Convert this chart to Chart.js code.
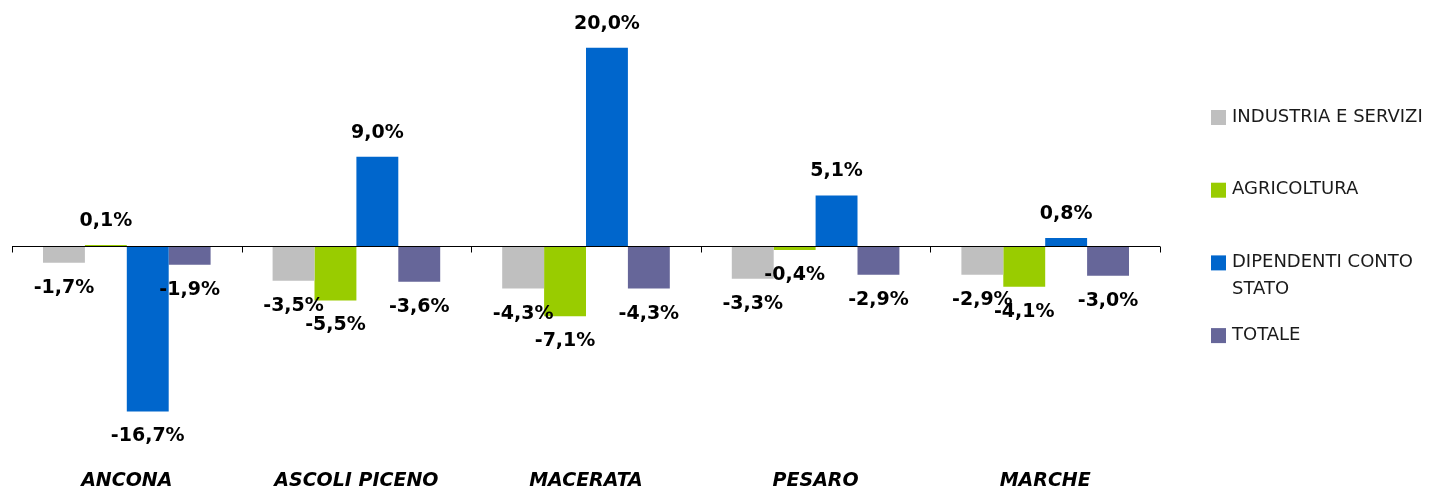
<!DOCTYPE html>
<html>
<head>
<meta charset="utf-8">
<script src="https://cdn.jsdelivr.net/npm/chart.js@4"></script>
<style>
html, body { margin: 0; padding: 0; background: #fff; }
#wrap { width: 1436px; height: 491px; }
</style>
</head>
<body>
<div id="wrap"><canvas id="chart"></canvas></div>
<script>
var categories = ['ANCONA', 'ASCOLI PICENO', 'MACERATA', 'PESARO', 'MARCHE'];
var seriesNames = ['INDUSTRIA E SERVIZI', 'AGRICOLTURA', 'DIPENDENTI CONTO STATO', 'TOTALE'];
var industria = [-1.7, -3.5, -4.3, -3.3, -2.9];
var agricoltura = [0.1, -5.5, -7.1, -0.4, -4.1];
var dipendenti = [-16.7, 9.0, 20.0, 5.1, 0.8];
var totale = [-1.9, -3.6, -4.3, -2.9, -3.0];
var colors = ['#bfbfbf', '#99cc00', '#0066cc', '#666699'];

function fmt(v) {
  return v.toFixed(1).replace('.', ',') + '%';
}

// axis line on zero with tick marks between the categories
var zeroAxis = {
  id: 'zeroAxis',
  afterDatasetsDraw: function(chart) {
    var ctx = chart.ctx;
    var xs = chart.scales.x, ys = chart.scales.y;
    var area = chart.chartArea;
    var y0 = Math.round(ys.getPixelForValue(0)) + 0.5;
    var step = xs.getPixelForValue(1) - xs.getPixelForValue(0);
    ctx.save();
    ctx.strokeStyle = '#000';
    ctx.lineWidth = 1;
    ctx.beginPath();
    ctx.moveTo(area.left, y0);
    ctx.lineTo(area.right, y0);
    for (var i = 0; i <= categories.length; i++) {
      var px = Math.round(xs.getPixelForValue(i) - step / 2) + 0.5;
      ctx.moveTo(px, y0);
      ctx.lineTo(px, y0 + 6);
    }
    ctx.stroke();
    ctx.restore();
  }
};

// value labels above / below each bar
var valueLabels = {
  id: 'valueLabels',
  afterDatasetsDraw: function(chart) {
    var ctx = chart.ctx;
    ctx.save();
    ctx.font = 'bold 19px "DejaVu Sans"';
    ctx.fillStyle = '#000';
    ctx.textAlign = 'center';
    ctx.textBaseline = 'middle';
    chart.data.datasets.forEach(function(ds, i) {
      chart.getDatasetMeta(i).data.forEach(function(bar, j) {
        var v = ds.data[j];
        var y = v >= 0 ? bar.y - 24 : bar.y + 25;
        ctx.fillText(fmt(v), bar.x, y);
      });
    });
    ctx.restore();
  }
};

function wrapText(ctx, text, maxW) {
  var words = text.split(' ');
  var lines = [];
  var cur = '';
  words.forEach(function(w) {
    var test = cur ? cur + ' ' + w : w;
    if (ctx.measureText(test).width > maxW && cur) {
      lines.push(cur);
      cur = w;
    } else {
      cur = test;
    }
  });
  if (cur) lines.push(cur);
  return lines;
}

// legend on the right, like the excel one
var sideLegend = {
  id: 'sideLegend',
  afterDraw: function(chart) {
    var ctx = chart.ctx;
    ctx.save();
    ctx.font = '18px "DejaVu Sans"';
    ctx.textBaseline = 'middle';
    ctx.textAlign = 'left';
    chart.data.datasets.forEach(function(ds, i) {
      var y = 117 + i * 72.7;
      ctx.fillStyle = ds.backgroundColor;
      ctx.fillRect(1211, y - 7, 15, 15);
      ctx.fillStyle = '#1a1a1a';
      wrapText(ctx, ds.label, 200).forEach(function(line, k) {
        ctx.fillText(line, 1232, y + k * 27);
      });
    });
    ctx.restore();
  }
};

var series = [industria, agricoltura, dipendenti, totale];

var chart = new Chart(document.getElementById('chart'), {
  type: 'bar',
  data: {
    labels: categories,
    datasets: series.map(function(d, i) {
      return {
        label: seriesNames[i],
        data: d,
        backgroundColor: colors[i],
        borderWidth: 0,
        categoryPercentage: 0.73,
        barPercentage: 1.0
      };
    })
  },
  options: {
    responsive: true,
    maintainAspectRatio: false,
    animation: false,
    layout: { padding: { left: 12, right: 276, top: 28, bottom: -26 } },
    plugins: {
      legend: { display: false },
      tooltip: { enabled: false }
    },
    scales: {
      x: {
        grid: { display: false, drawTicks: false },
        border: { display: false },
        ticks: {
          padding: 25,
          color: '#000',
          font: { family: '"DejaVu Sans"', size: 19, weight: 'bold', style: 'italic' }
        }
      },
      y: {
        display: false,
        min: -20,
        max: 22
      }
    }
  },
  plugins: [zeroAxis, valueLabels, sideLegend]
});
</script>
</body>
</html>
